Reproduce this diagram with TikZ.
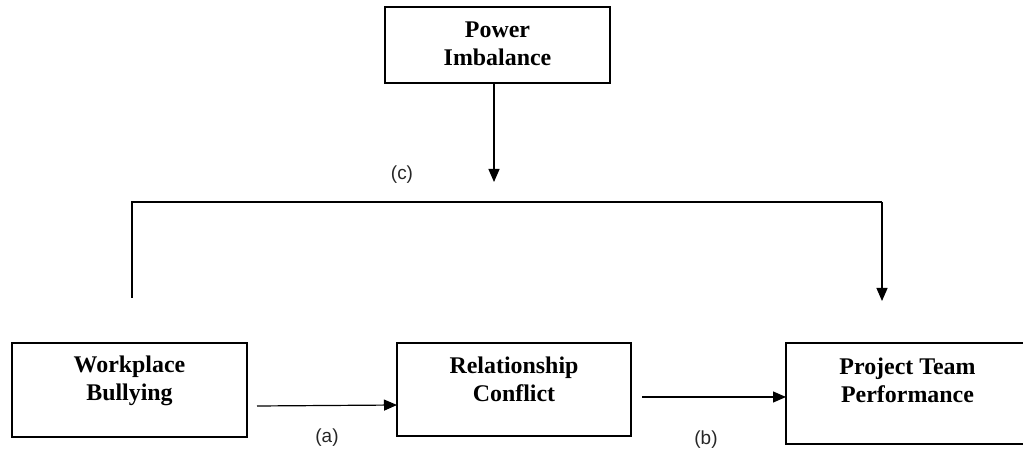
\documentclass[tikz,border=0pt]{standalone}
\usepackage{fontspec}
\setmainfont{Liberation Serif}
\newfontfamily\lblfont{Liberation Sans}
\usetikzlibrary{arrows.meta}
\begin{document}
\begin{tikzpicture}[x=1bp,y=-1bp,
  box/.style={draw,line width=1.2bp},
  boxtext/.style={align=center,font=\fontsize{24}{28}\selectfont\bfseries,inner sep=0pt},
  lbl/.style={font=\lblfont\fontsize{19}{22}\selectfont,inner sep=0pt,text=black!85},
  conn/.style={line width=1.2bp},
  arr/.style={conn,-{Triangle[length=13bp,width=11bp]}}]
\useasboundingbox (0,0) rectangle (1023,452);
\begin{scope}
\clip (0,0) rectangle (1023,452);
% boxes
\draw[box] (385,7) rectangle (610,83);
\node[boxtext] (pi) at (497.5,44) {Power\\Imbalance};
\coordinate (piS) at (494,83);
\draw[box] (12,343) rectangle (247,437);
\node[boxtext] (wb) at (129.5,381) {Workplace\\Bullying};
\coordinate (wbE) at (257,406);
\draw[box] (397,343) rectangle (631,436);
\node[boxtext] (rc) at (514,379) {Relationship\\Conflict};
\coordinate (rcW) at (397,405);
\coordinate (rcE) at (642,397);
\draw[box] (786,343) rectangle (1029,444);
\node[boxtext] (pt) at (907.5,380) {Project Team\\Performance};
\coordinate (ptW) at (786,397);
\end{scope}
% moderator connectors
\coordinate (cEnd) at (494,182);
\draw[arr] (piS) -- (cEnd);
\coordinate (l0) at (132,298);
\coordinate (l1) at (132,202);
\coordinate (r1) at (882,202);
\coordinate (r2) at (882,301);
\draw[conn] (l0) -- (l1) -- (r1);
\draw[arr] (r1) -- (r2);
% path arrows
\draw[arr] (wbE) -- (rcW);
\draw[arr] (rcE) -- (ptW);
% labels
\node[lbl] (lc) at (402,175) {(c)};
\node[lbl] (la) at (327,438) {(a)};
\node[lbl] (lb) at (706,440) {(b)};
\end{tikzpicture}
\end{document}
